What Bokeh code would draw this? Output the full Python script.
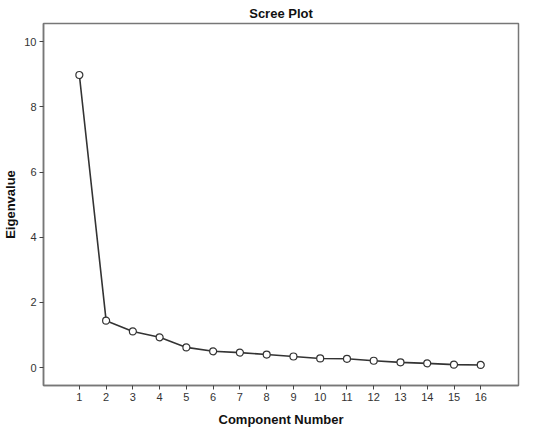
from bokeh.plotting import figure
from bokeh.models import Range1d, FixedTicker
from bokeh.embed import file_html
from bokeh.resources import INLINE

components = list(range(1, 17))
eigenvalues = [8.98, 1.44, 1.11, 0.93, 0.62, 0.50, 0.46, 0.40, 0.34, 0.28, 0.27, 0.21, 0.16, 0.13, 0.09, 0.08]
x_ticks = list(range(1, 17))
y_ticks = [0, 2, 4, 6, 8, 10]

FONT = "Liberation Sans"

p = figure(width=550, height=429, output_backend="svg", toolbar_location=None,
           x_range=Range1d(-0.34, 17.41), y_range=Range1d(-0.55, 10.56),
           title="Scree Plot")
p.min_border_left = 41
p.min_border_right = 32
p.min_border_top = 4
p.min_border_bottom = 43

p.title.align = "center"
p.title.text_font = FONT
p.title.text_font_size = "13px"
p.title.text_font_style = "bold"
p.title.text_color = "#111111"
p.title.standoff = 6

p.outline_line_color = "#777777"
p.outline_line_width = 1.5
p.xgrid.visible = False
p.ygrid.visible = False
p.background_fill_color = "white"
p.border_fill_color = "white"

for ax in (p.xaxis[0], p.yaxis[0]):
    ax.axis_line_color = "#777777"
    ax.axis_line_width = 1.5
    ax.major_tick_line_color = "#444444"
    ax.major_tick_in = 0
    ax.major_tick_out = 4
    ax.minor_tick_line_color = None
    ax.major_label_text_font = FONT
    ax.major_label_text_font_size = "11px"
    ax.major_label_text_color = "#333333"
    ax.major_label_standoff = 3
    ax.axis_label_text_font = FONT
    ax.axis_label_text_font_size = "13px"
    ax.axis_label_text_font_style = "bold"
    ax.axis_label_text_color = "#111111"
    ax.axis_label_standoff = 8

p.xaxis.ticker = FixedTicker(ticks=x_ticks)
p.yaxis.ticker = FixedTicker(ticks=y_ticks)
p.xaxis.axis_label = "Component Number"
p.yaxis.axis_label = "Eigenvalue"
p.yaxis.axis_label_standoff = 3

p.line(components, eigenvalues, line_color="#333333", line_width=1.6)
p.scatter(components, eigenvalues, marker="circle", size=7, line_color="#333333",
          line_width=1.2, fill_color="white")

open("out.html", "w").write(file_html(p, INLINE))
